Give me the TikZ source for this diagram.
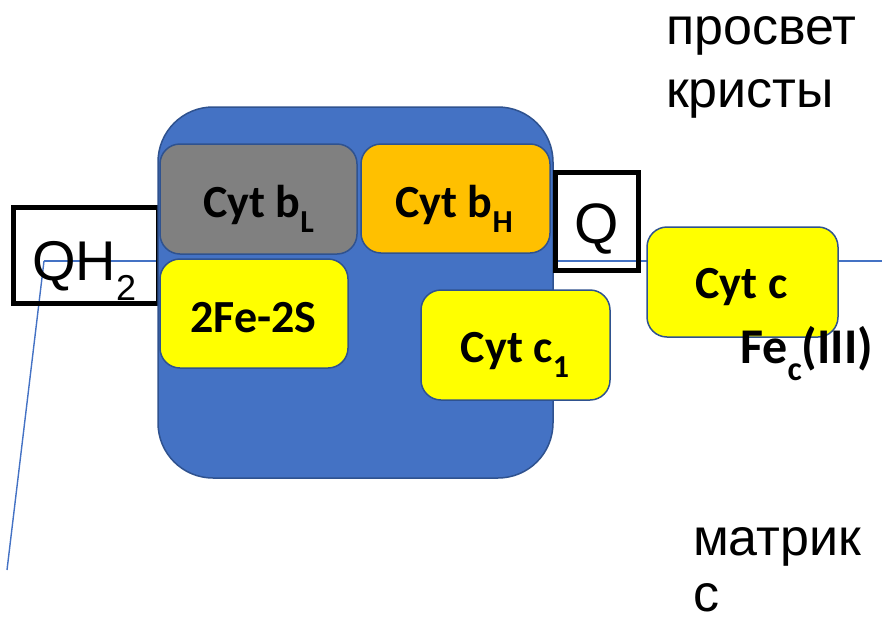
\documentclass[tikz,border=0pt]{standalone}
\usepackage{fontspec}
\setmainfont{Liberation Sans}
\newfontfamily\lblfont{Carlito}
\definecolor{cplxblue}{HTML}{4472C4}
\definecolor{cplxedge}{HTML}{2F528F}
\definecolor{hemeorange}{HTML}{FFC000}
\definecolor{hemegray}{HTML}{808080}
\definecolor{clusteryellow}{HTML}{FFFF00}
\newcommand{\lowsub}[1]{\raisebox{-15pt}{\fontsize{32}{32}\selectfont #1}}
\tikzset{
  membrane/.style={draw=cplxblue, line width=1.4pt},
  subunit/.style={draw=cplxedge, line width=1.5pt, rounded corners=20pt, inner sep=0pt},
  quinonebox/.style={draw=black, line width=5pt, inner sep=0pt},
  boldlabel/.style={font=\lblfont\bfseries\fontsize{46}{46}\selectfont, inner sep=0pt},
  plainlabel/.style={font=\fontsize{52}{52}\selectfont, inner sep=0pt, anchor=base west},
}
\begin{document}
\begin{tikzpicture}[x=1pt,y=-1pt]
\useasboundingbox (0,0) rectangle (882,621);

% membrane lines
\coordinate (hub) at (44,261);
\coordinate (eastend) at (882,261);
\coordinate (lowend) at (7,570);
\draw[membrane] (hub) -- (eastend);
\draw[membrane] (hub) -- (lowend);

% QH2 box
\node[quinonebox, minimum width=145pt, minimum height=96pt] (qhbox) at (85.5,255) {};
\node[font=\fontsize{56}{56}\selectfont, inner sep=0pt, anchor=base west] (qhtext) at (32,280)
  {QH\raisebox{-20pt}{\fontsize{36}{36}\selectfont 2}};

% complex body
\node[subunit, fill=cplxblue, rounded corners=55pt, minimum width=395pt, minimum height=371pt] (complex) at (355.5,292.5) {};

% subunits
\node[subunit, fill=hemegray, minimum width=197pt, minimum height=110pt] (bl) at (258.5,199) {};
\node[subunit, fill=hemeorange, minimum width=189pt, minimum height=109pt] (bh) at (455.5,198.5) {};
\node[subunit, fill=clusteryellow, minimum width=188pt, minimum height=109pt] (fes) at (254,313.5) {};
\node[subunit, fill=clusteryellow, minimum width=189pt, minimum height=110pt] (cone) at (515.5,345) {};
\node[subunit, fill=clusteryellow, minimum width=191pt, minimum height=110pt] (cytc) at (742.5,282) {};

\node[boldlabel, anchor=base] (bltext) at (258.5,217) {Cyt b\lowsub{L}};
\node[boldlabel, anchor=base] (bhtext) at (454,217) {Cyt b\lowsub{H}};
\node[boldlabel, anchor=base] (festext) at (253.5,332) {2Fe-2S};
\node[boldlabel, anchor=base] (conetext) at (515,362) {Cyt c\lowsub{1}};
\node[boldlabel, anchor=base] (cytctext) at (741.5,298) {Cyt c};
\node[boldlabel, font=\lblfont\bfseries\fontsize{50}{50}\selectfont, anchor=base west] (fetext) at (740,363)
  {Fe\raisebox{-17pt}{\fontsize{34}{34}\selectfont c}(III)};

% Q box
\node[quinonebox, minimum width=83pt, minimum height=98pt] (qbox) at (596.5,221) {};
\node[font=\fontsize{57}{57}\selectfont, inner sep=0pt, anchor=base] (qtext) at (596.5,243) {Q};

% compartment labels
\node[plainlabel] (lumen1) at (666,44) {просвет};
\node[plainlabel] (lumen2) at (666,107) {кристы};
\node[plainlabel] (matrix1) at (693,555) {матрик};
\node[plainlabel] (matrix2) at (693,611) {с};
\end{tikzpicture}
\end{document}
